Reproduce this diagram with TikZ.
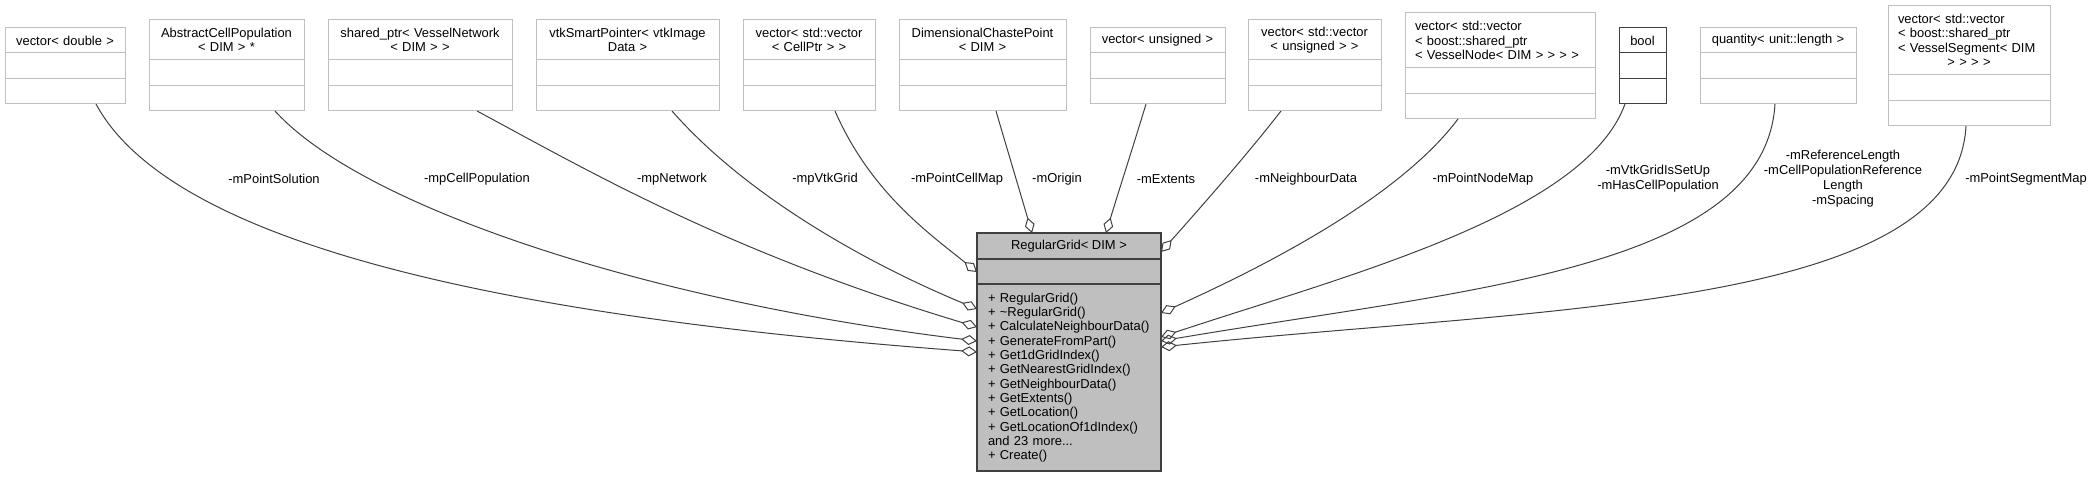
\documentclass[tikz,border=0pt]{standalone}
\usepackage{fontspec}
\setmainfont{Liberation Sans}
\usetikzlibrary{positioning,calc,arrows.meta}

\definecolor{edgegray}{HTML}{404040}
\definecolor{boxgray}{HTML}{BFBFBF}

\tikzset{
  cls/.style={line width=0.75pt, inner ysep=0pt, outer sep=0pt, font=\fontsize{9.7}{10.8}\selectfont},
  hdc/.style={cls, align=center},
  hdl/.style={cls, align=left},
  cmp/.style={line width=0.75pt, inner sep=0pt, outer sep=0pt},
  mainbox/.style={draw=edgegray, fill=boxgray, line width=0.9pt, inner sep=0pt, outer sep=0pt,
    font=\fontsize{9.7}{10.75}\selectfont},
  lbl/.style={align=center, inner sep=0pt, font=\fontsize{9.7}{11.25}\selectfont},
  agg/.style={draw=edgegray, line width=0.75pt, -{Diamond[open, length=12pt, width=7.5pt]}}
}

\begin{document}
\begin{tikzpicture}[x=0.75pt, y=-0.75pt]
  \useasboundingbox (0,0) rectangle (2093,477);

  % member classes
  \foreach \n/\l/\r/\t/\h/\st/\ix/\bc/\txt in {
      dbl/5/125/28/25/hdc/3/boxgray/{vector< double >},
      pop/149/304/20/40/hdc/3/boxgray/{AbstractCellPopulation\\< DIM > *},
      net/328/512/20/40/hdc/3/boxgray/{shared\_ptr< VesselNetwork\\< DIM > >},
      vtk/536/719/20/40/hdc/3/boxgray/{vtkSmartPointer< vtkImage\\Data >},
      cpm/743/875/20/40/hdc/3/boxgray/{vector< std::vector\\< CellPtr > >},
      ori/899/1066/20/40/hdc/3/boxgray/{DimensionalChastePoint\\< DIM >},
      ext/1090/1225/28/25/hdc/3/boxgray/{vector< unsigned >},
      nbr/1248/1381/20/40/hdc/3/boxgray/{vector< std::vector\\< unsigned > >},
      nod/1405/1595/13/55/hdl/7.5/boxgray/{vector< std::vector\\< boost::shared\_ptr\\< VesselNode< DIM > > > >},
      boo/1619/1666/28/25/hdc/3/edgegray/{bool},
      qty/1700/1856/28/25/hdc/3/boxgray/{quantity< unit::length >},
      seg/1888/2050/6/69/hdl/7.5/boxgray/{vector< std::vector\\< boost::shared\_ptr\\< VesselSegment< DIM\\\makebox[\linewidth]{> > > >}}} {
    \pgfmathsetmacro\bw{(\r-\l)*0.75}
    \pgfmathsetmacro\tw{(\r-\l)*0.75-2*\ix}
    \pgfmathsetmacro\hh{\h*0.75}
    \node [\st, draw=\bc, inner xsep=\ix pt, text width=\tw pt, minimum width=\bw pt,
      minimum height=\hh pt, anchor=north west] (\n) at (\l,\t) {\txt};
    \node [cmp, draw=\bc, minimum width=\bw pt, minimum height=19.5pt, below=0pt of \n] (\n-a) {};
    \node [cmp, draw=\bc, minimum width=\bw pt, minimum height=18.75pt, below=0pt of \n-a] (\n-b) {};
  }

  % the class itself
  \node [mainbox, align=center, minimum width=138pt, minimum height=19.5pt, anchor=north west]
    (grid) at (977,233) {RegularGrid< DIM >};
  \node [mainbox, minimum width=138pt, minimum height=18.75pt, below=0pt of grid] (grid-a) {};
  \node [mainbox, align=left, inner xsep=8.25pt, text width=121.5pt, minimum height=140.25pt,
    below=0pt of grid-a] (grid-m) {+ RegularGrid()\\+ \textasciitilde RegularGrid()\\
    + CalculateNeighbourData()\\+ GenerateFromPart()\\+ Get1dGridIndex()\\
    + GetNearestGridIndex()\\+ GetNeighbourData()\\+ GetExtents()\\+ GetLocation()\\
    + GetLocationOf1dIndex()\\and 23 more...\\+ Create()};

  % aggregation edges
  \foreach \src/\sx/\tgt/\tx/\ty/\ax/\ay/\bx/\by in {
      dbl-b/91/grid-m.north west/0/68/84/156/-400/-30,
      pop-b/126/grid-m.north west/0/57/85/94/-337/-41,
      net-b/149/grid-m.north west/0/43/110/59/-250/-75,
      vtk-b/136/grid-m.north west/0/25/70/80/-120/-50,
      cpm-b/92/grid-a.north west/0/13/35/80/-50/-40,
      ori-b/97/grid.north west/55/0/12/41/-12/-41,
      ext-b/56/grid.north west/129/0/-13/43/13/-43,
      nbr-b/33/grid.north east/0/19/-35/45/40/-45,
      nod-b/53/grid-m.north east/0/29/-60/80/100/-45,
      boo-b/6/grid-m.north east/0/53/-40/111/180/-60,
      qty-b/75/grid-m.north east/0/57/-10/166/300/-51,
      seg-b/78/grid-m.north east/0/63/-10/184/380/-40}
    \draw [agg] ($(\src.south west)+(\sx,0)$) .. controls +(\ax,\ay) and +(\bx,\by) .. ($(\tgt)+(\tx,\ty)$);

  % edge labels
  \foreach \x/\txt [count=\i] in {274/{-mPointSolution}, 477/{-mpCellPopulation}, 672/{-mpNetwork},
      825/{-mpVtkGrid}, 957/{-mPointCellMap}, 1057/{-mOrigin}, 1166/{-mExtents},
      1306/{-mNeighbourData}, 1483/{-mPointNodeMap}, 1658/{-mVtkGridIsSetUp\\-mHasCellPopulation},
      1843/{-mReferenceLength\\-mCellPopulationReference\\Length\\-mSpacing}, 2026/{-mPointSegmentMap}}
    \node [lbl] (lab\i) at (\x,179) {\txt};
\end{tikzpicture}
\end{document}
